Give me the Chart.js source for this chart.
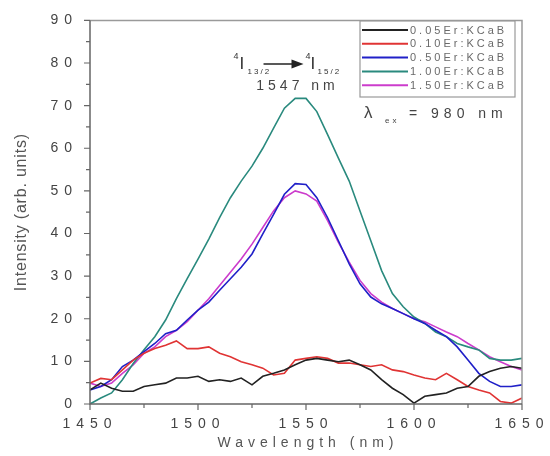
<!DOCTYPE html>
<html><head><meta charset="utf-8">
<script src="https://cdn.jsdelivr.net/npm/chart.js@4.4.1/dist/chart.umd.min.js"></script>
<style>html,body{margin:0;padding:0;background:#fff}</style>
</head><body>
<canvas id="c" width="550" height="456"></canvas>
<script>
const wavelengths = [1450,1455,1460,1465,1470,1475,1480,1485,1490,1495,1500,1505,1510,1515,1520,1525,1530,1535,1540,1545,1550,1555,1560,1565,1570,1575,1580,1585,1590,1595,1600,1605,1610,1615,1620,1625,1630,1635,1640,1645,1650];
const er005 = [3.3,4.9,3.7,3.0,3.0,4.1,4.5,4.9,6.1,6.1,6.5,5.3,5.7,5.3,6.1,4.5,6.5,7.2,8.0,9.2,10.3,10.7,10.3,9.9,10.3,9.2,8.0,5.7,3.7,2.2,0.2,1.8,2.2,2.6,3.7,4.1,6.5,7.6,8.4,8.8,8.4];
const er010 = [4.9,6.0,5.7,8.0,10.3,11.9,13.0,13.8,14.8,13.0,13.0,13.4,11.9,11.1,9.9,9.2,8.4,6.8,7.2,10.3,10.7,11.1,10.7,9.6,9.6,9.2,8.8,9.2,8.0,7.6,6.8,6.1,5.7,7.2,5.7,4.1,3.3,2.6,0.6,0.2,1.4];
const er050 = [3.3,4.1,5.7,8.8,10.3,12.3,14.2,16.5,17.3,19.7,22.0,23.9,26.7,29.4,32.1,35.2,39.9,44.5,49.2,51.7,51.5,48.4,43.7,38.3,32.9,28.2,25.1,23.5,22.4,21.2,20.0,18.9,17.3,15.8,13.4,10.3,7.2,5.3,4.1,4.1,4.5];
const er100 = [0,1.4,2.6,5.7,9.5,12.7,15.8,19.7,24.7,29.4,34.0,38.7,43.7,48.4,52.3,55.8,60.0,64.7,69.4,71.7,71.7,68.6,63.2,57.7,52.3,45.3,38.3,31.3,25.9,22.8,20.4,18.9,16.9,15.8,14.2,13.4,12.7,10.7,10.3,10.3,10.7];
const er150 = [4.9,4.1,4.9,7.2,9.2,11.9,13.4,15.8,17.3,19.3,22.0,24.7,27.8,30.9,34.0,37.5,41.4,45.3,48.4,50.0,49.3,47.6,43.0,37.9,33.3,29.0,25.9,23.9,22.4,21.2,20.0,19.3,18.1,16.9,15.8,14.2,12.7,11.1,9.9,8.8,8.0];
const seriesLabels = ['0.05Er:KCaB','0.10Er:KCaB','0.50Er:KCaB','1.00Er:KCaB','1.50Er:KCaB'];
const seriesValues = [er005, er010, er050, er100, er150];
const seriesColors = ['#222222','#e03434','#2020c8','#2a8a7e','#cc3ccc'];
const xTicks = [1450,1500,1550,1600,1650];
const yTicks = [0,10,20,30,40,50,60,70,80,90];
const xTitle = 'Wavelength (nm)';
const yTitle = 'Intensity (arb. units)';
const peakLabel = '1547 nm';
const peakWavelength = 1547;
const excitationLabel = '= 980 nm';

const FONT = '"Liberation Sans", Arial, sans-serif';

const decor = {
  id: 'decor',
  beforeDraw(chart) { chart.ctx.letterSpacing = '6px'; },
  beforeDatasetsDraw(chart) { chart.ctx.letterSpacing = '0px'; },
  afterDraw(chart) {
    const ctx = chart.ctx, a = chart.chartArea;
    const xs = chart.scales.x, ys = chart.scales.y;
    ctx.save();
    ctx.letterSpacing = '0px';
    // frame
    ctx.lineWidth = 1.5;
    ctx.strokeStyle = '#9a9a9a';
    ctx.beginPath();
    ctx.moveTo(a.left, a.top); ctx.lineTo(a.right, a.top); ctx.lineTo(a.right, a.bottom);
    ctx.stroke();
    ctx.strokeStyle = '#666';
    ctx.beginPath();
    ctx.moveTo(a.left, a.top); ctx.lineTo(a.left, a.bottom); ctx.lineTo(a.right, a.bottom);
    ctx.stroke();
    // ticks (outward)
    ctx.lineWidth = 1.2;
    ctx.beginPath();
    for (let i = 0; i < xTicks.length; i++) {
      const px = xs.getPixelForValue(xTicks[i]);
      ctx.moveTo(px, a.bottom); ctx.lineTo(px, a.bottom + 6);
      if (i < xTicks.length - 1) {
        const pm = xs.getPixelForValue((xTicks[i] + xTicks[i+1]) / 2);
        ctx.moveTo(pm, a.bottom); ctx.lineTo(pm, a.bottom + 4);
      }
    }
    for (let i = 0; i < yTicks.length; i++) {
      const py = ys.getPixelForValue(yTicks[i]);
      ctx.moveTo(a.left, py); ctx.lineTo(a.left - 6, py);
      if (i < yTicks.length - 1) {
        const pm = ys.getPixelForValue((yTicks[i] + yTicks[i+1]) / 2);
        ctx.moveTo(a.left, pm); ctx.lineTo(a.left - 4, pm);
      }
    }
    ctx.stroke();
    // axis titles
    ctx.fillStyle = '#555';
    ctx.textBaseline = 'middle';
    ctx.textAlign = 'center';
    ctx.font = '14px ' + FONT;
    ctx.letterSpacing = '5px';
    ctx.fillText(xTitle, (a.left + a.right) / 2 + 2, 443);
    ctx.save();
    ctx.translate(22, (a.top + a.bottom) / 2);
    ctx.rotate(-Math.PI / 2);
    ctx.font = '16px ' + FONT;
    ctx.letterSpacing = '0.8px';
    ctx.fillText(yTitle, 0, 0);
    ctx.restore();
    ctx.letterSpacing = '0px';

    // legend
    const lx = 360, ly = 21, lw = 155, lh = 76;
    ctx.fillStyle = '#fff';
    ctx.fillRect(lx, ly, lw, lh);
    ctx.strokeStyle = '#999';
    ctx.lineWidth = 1.2;
    ctx.strokeRect(lx, ly, lw, lh);
    chart.data.datasets.forEach((ds, i) => {
      const y = 30 + i * 13.8;
      ctx.strokeStyle = ds.borderColor;
      ctx.lineWidth = 2;
      ctx.beginPath(); ctx.moveTo(lx + 2, y); ctx.lineTo(408, y); ctx.stroke();
      ctx.fillStyle = '#6a6a6a';
      ctx.textAlign = 'left';
      ctx.textBaseline = 'middle';
      ctx.font = '11px ' + FONT;
      ctx.letterSpacing = '3px';
      ctx.fillText(ds.label, 410, y + 0.5);
      ctx.letterSpacing = '0px';
    });

    // transition annotation
    ctx.fillStyle = '#333';
    ctx.textBaseline = 'alphabetic';
    ctx.textAlign = 'left';
    const cx = xs.getPixelForValue(peakWavelength);
    ctx.font = '9px ' + FONT;
    ctx.fillText('4', cx - 66, 59);
    ctx.font = '17px ' + FONT;
    ctx.fillText('I', cx - 60, 69);
    ctx.font = '8px ' + FONT;
    ctx.letterSpacing = '2px';
    ctx.fillText('13/2', cx - 52, 74);
    ctx.letterSpacing = '0px';
    // arrow
    ctx.strokeStyle = '#222'; ctx.lineWidth = 1.5;
    ctx.beginPath(); ctx.moveTo(cx - 36, 64); ctx.lineTo(cx - 6, 64); ctx.stroke();
    ctx.fillStyle = '#222';
    ctx.beginPath(); ctx.moveTo(cx + 4, 64); ctx.lineTo(cx - 8, 59.5); ctx.lineTo(cx - 8, 68.5); ctx.closePath(); ctx.fill();
    ctx.fillStyle = '#333';
    ctx.font = '9px ' + FONT;
    ctx.fillText('4', cx + 6, 59);
    ctx.font = '17px ' + FONT;
    ctx.fillText('I', cx + 11, 69);
    ctx.font = '8px ' + FONT;
    ctx.letterSpacing = '2px';
    ctx.fillText('15/2', cx + 18, 74);
    ctx.letterSpacing = '4px';
    ctx.font = '14px ' + FONT;
    ctx.textAlign = 'center';
    ctx.fillStyle = '#444';
    ctx.fillText(peakLabel, cx - 2, 90);
    // excitation
    ctx.textAlign = 'left';
    ctx.letterSpacing = '0px';
    ctx.font = '17px ' + FONT;
    ctx.fillText('λ', 364, 118);
    ctx.font = '8px ' + FONT;
    ctx.letterSpacing = '3px';
    ctx.fillText('ex', 385, 123);
    ctx.font = '14px ' + FONT;
    ctx.letterSpacing = '5px';
    ctx.fillText(excitationLabel, 409, 118);
    ctx.restore();
  }
};

new Chart(document.getElementById('c'), {
  type: 'line',
  data: {
    datasets: seriesLabels.map((lab, i) => ({
      label: lab,
      data: wavelengths.map((w, j) => ({ x: w, y: seriesValues[i][j] })),
      borderColor: seriesColors[i],
      backgroundColor: seriesColors[i],
      borderWidth: 1.6,
      pointRadius: 0,
      tension: 0,
      fill: false
    }))
  },
  options: {
    responsive: false,
    animation: false,
    devicePixelRatio: 1,
    layout: { padding: { top: 18, right: 28, left: 0, bottom: 0 } },
    plugins: { legend: { display: false }, tooltip: { enabled: false } },
    scales: {
      x: {
        type: 'linear', min: 1450, max: 1650,
        afterFit(s) { s.height = 52; },
        afterBuildTicks(s) { s.ticks = xTicks.map(v => ({ value: v })); },
        grid: { display: false, drawTicks: false },
        border: { display: false },
        ticks: { padding: 12, color: '#444', autoSkip: false, maxRotation: 0, font: { family: FONT, size: 14 }, callback: v => String(v) }
      },
      y: {
        type: 'linear', min: 0, max: 90,
        afterFit(s) { s.width = 90; },
        afterBuildTicks(s) { s.ticks = yTicks.map(v => ({ value: v })); },
        grid: { display: false, drawTicks: false },
        border: { display: false },
        ticks: { padding: 12, color: '#444', font: { family: FONT, size: 14 }, callback: v => String(v) }
      }
    }
  },
  plugins: [decor]
});
</script>
</body></html>
